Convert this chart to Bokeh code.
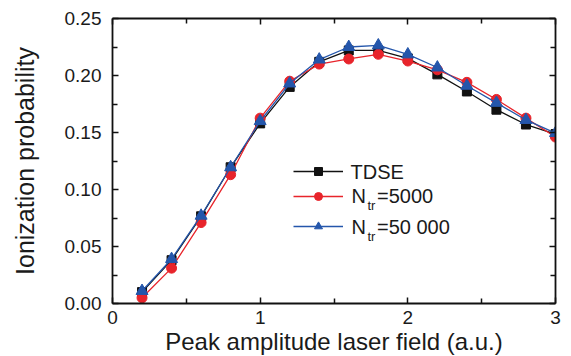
from bokeh.plotting import figure
from bokeh.models import (LinearAxis, FixedTicker, PrintfTickFormatter, Legend,
                          LegendItem, Label, Range1d, CustomJSTickFormatter)
from bokeh.embed import file_html
from bokeh.resources import INLINE

# ---- data ----
field = [0.2, 0.4, 0.6, 0.8, 1.0, 1.2, 1.4, 1.6, 1.8, 2.0, 2.2, 2.4, 2.6, 2.8, 3.0]
tdse = [0.010, 0.038, 0.0765, 0.1195, 0.158, 0.190, 0.212, 0.222, 0.222, 0.215,
        0.201, 0.186, 0.170, 0.157, 0.1486]
ntr5000 = [0.005, 0.031, 0.071, 0.113, 0.1626, 0.195, 0.210, 0.2145, 0.2186, 0.2127,
           0.205, 0.194, 0.179, 0.1626, 0.146]
ntr50000 = [0.011, 0.039, 0.077, 0.1195, 0.160, 0.193, 0.214, 0.225, 0.2264, 0.2185,
            0.207, 0.191, 0.176, 0.161, 0.1495]
x_ticks = [0, 1, 2, 3]
x_minor = [0.5, 1.5, 2.5]
y_ticks = [0.0, 0.05, 0.10, 0.15, 0.20, 0.25]
y_minor = [0.025, 0.075, 0.125, 0.175, 0.225]

FONT = "Liberation Sans"
TXT = "#1a1a1a"
BLACK = "#111111"
RED = "#e8242b"
BLUE = "#2456ab"

# frame geometry (page px): left 112, right 555, top 18, bottom 303
FL, FT, FW, FH = 112, 18, 443, 285
X0, X1, Y0, Y1 = 0, 3, 0, 0.25

p = figure(frame_width=FW, frame_height=FH, output_backend="svg", toolbar_location=None,
           x_range=Range1d(X0, X1), y_range=Range1d(Y0, Y1),
           min_border_left=FL, min_border_top=FT, min_border_right=16, min_border_bottom=0,
           x_axis_label="Peak amplitude laser field (a.u.)",
           y_axis_label="Ionization probability")
p.grid.visible = False
p.outline_line_color = None
p.background_fill_color = "white"

blank = CustomJSTickFormatter(code="return ''")

def style_axis(ax, ticks, minor, show_labels):
    ax.ticker = FixedTicker(ticks=ticks, minor_ticks=minor)
    ax.axis_line_width = 1.8
    ax.axis_line_color = BLACK
    ax.major_tick_in = 6
    ax.major_tick_out = 0
    ax.minor_tick_in = 5
    ax.minor_tick_out = 0
    ax.major_tick_line_width = 1.5
    ax.minor_tick_line_width = 1.5
    ax.major_tick_line_color = BLACK
    ax.minor_tick_line_color = BLACK
    if not show_labels:
        ax.formatter = blank
        ax.major_label_standoff = 0

for ax in p.xaxis:
    style_axis(ax, x_ticks, x_minor, True)
    ax.major_label_text_font = FONT
    ax.major_label_text_font_size = "19px"
    ax.major_label_text_color = TXT
    ax.major_label_standoff = 7
    ax.axis_label_text_font = FONT
    ax.axis_label_text_font_size = "24px"
    ax.axis_label_text_font_style = "normal"
    ax.axis_label_text_color = TXT
    ax.axis_label_standoff = 1
for ax in p.yaxis:
    style_axis(ax, y_ticks, y_minor, True)
    ax.formatter = PrintfTickFormatter(format="%.2f")
    ax.major_label_text_font = FONT
    ax.major_label_text_font_size = "19px"
    ax.major_label_text_color = TXT
    ax.major_label_standoff = 11
    ax.axis_label_text_font = FONT
    ax.axis_label_text_font_size = "25px"
    ax.axis_label_text_font_style = "normal"
    ax.axis_label_text_color = TXT
    ax.axis_label_standoff = 23

top = LinearAxis()
style_axis(top, x_ticks, x_minor, False)
p.add_layout(top, "above")
right = LinearAxis()
style_axis(right, y_ticks, y_minor, False)
p.add_layout(right, "right")

series = [
    (tdse, BLACK, "square", 9),
    (ntr5000, RED, "circle", 10),
    (ntr50000, BLUE, "triangle", 12),
]
legend_row_py = [171.0, 195.7, 225.7]  # row centres in the reference, page px
renderers = []
for (vals, col, mk, sz) in series:
    ln = p.line(field, vals, line_color=col, line_width=1.3)
    sc = p.scatter(field, vals, marker=mk, size=sz, fill_color=col, line_color=col)
    renderers.append([ln, sc])

for rs, py in zip(renderers, legend_row_py):
    yc = (FT + FH) - py
    lg = Legend(items=[LegendItem(label=" ", renderers=rs)],
                location=(293 - FL, int(round(yc - 10))),
                padding=0, margin=0, spacing=0, glyph_width=50, glyph_height=20,
                label_height=20, label_width=1, label_standoff=0,
                label_text_font_size="8px",
                border_line_color=None, background_fill_alpha=0)
    p.add_layout(lg)

def px2x(px):
    return X0 + (px - FL) / FW * (X1 - X0)

def py2y(py):
    return Y0 + ((FT + FH) - py) / FH * (Y1 - Y0)

# (text, left px, vertical centre px, size)
legend_texts = [
    ("TDSE", 350, 171.3, "20px"),
    ("N", 351, 195.5, "20px"),
    ("tr", 367, 205.0, "13px"),
    ("=5000", 376.5, 195.5, "20px"),
    ("N", 351, 226.0, "20px"),
    ("tr", 367, 236.0, "13px"),
    ("=50 000", 376.5, 226.0, "20px"),
]
for t, px, py, fs in legend_texts:
    p.add_layout(Label(x=px2x(px), y=py2y(py), text=t, text_font=FONT,
                       text_font_size=fs, text_color=TXT,
                       text_baseline="middle", text_align="left"))

open("out.html", "w").write(file_html(p, INLINE))
